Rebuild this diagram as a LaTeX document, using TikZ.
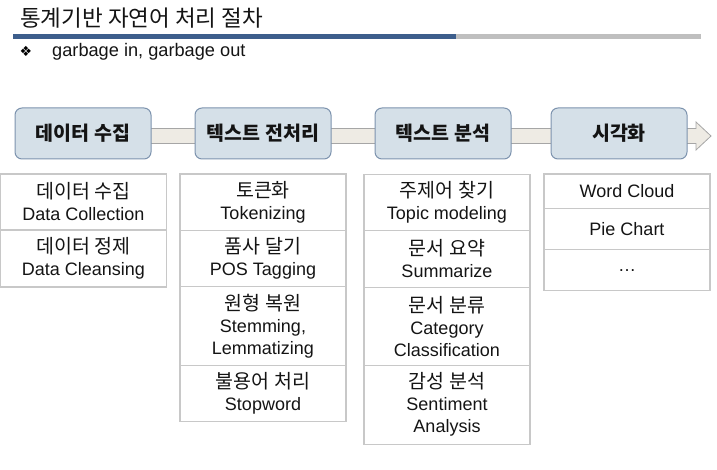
\documentclass[tikz,border=0pt]{standalone}
\usepackage{fontspec}
\usetikzlibrary{calc}
\setmainfont{Liberation Sans}
\newfontfamily\kr{Noto Sans CJK KR}
\newfontfamily\symfont{DejaVu Sans}
\newcommand\ko[1]{{\kr\fontsize{19.5}{22}\selectfont #1}}

\definecolor{rulblue}{HTML}{3D5E8C}
\definecolor{rulgray}{HTML}{BFBFBF}
\definecolor{stagefill}{HTML}{D5E0E8}
\definecolor{stageline}{HTML}{7D93AE}
\definecolor{bandfill}{HTML}{EEEBE4}
\definecolor{bandline}{HTML}{A6A6A6}
\definecolor{cellline}{HTML}{C8C8C8}
\definecolor{inktext}{HTML}{141414}

\begin{document}
\begin{tikzpicture}[x=1pt,y=-1pt,
  stagebox/.style={draw=stageline, fill=stagefill, rounded corners=7pt,
    line width=1pt, minimum width=136pt, minimum height=51pt, inner sep=0pt,
    text=inktext, font=\kr\bfseries\fontsize{19.5}{22}\selectfont},
  cell/.style={draw=cellline, line width=1.2pt, minimum width=166pt,
    inner sep=0pt, align=center, text=inktext,
    font=\fontsize{18}{22}\selectfont},
  band/.style={draw=bandline, fill=bandfill, line width=0.8pt}]
\useasboundingbox (0,0) rectangle (717,470);

% heading and rule
\node[anchor=west, inner sep=0pt, text=inktext,
  font=\kr\fontsize{22.5}{26}\selectfont] (title) at (20,18) {통계기반 자연어 처리 절차};
\fill[rulblue] (13,34) rectangle (456,39);
\fill[rulgray] (456,34) rectangle (701,39);
\node[inner sep=0pt, font=\symfont\fontsize{14}{14}\selectfont] (bullet) at (26,51) {❖};
\node[anchor=base west, inner sep=0pt, text=inktext,
  font=\fontsize{18.2}{20}\selectfont] (motto) at (52,57) {garbage in, garbage out};

% process band behind the stages
\coordinate (bandstart) at (83,136);
\coordinate (bandend) at (711,136);
\draw[band] ($(bandstart)+(0,-7.5)$) -- ($(bandend)+(-15,-7.5)$)
  -- ($(bandend)+(-15,-14)$) -- (bandend) -- ($(bandend)+(-15,14)$)
  -- ($(bandend)+(-15,7.5)$) -- ($(bandstart)+(0,7.5)$) -- cycle;

% stages
\node[stagebox] (s1) at (83,133.5) {데이터 수집};
\node[stagebox] (s2) at (263,133.5) {텍스트 전처리};
\node[stagebox] (s3) at (443,133.5) {텍스트 분석};
\node[stagebox] (s4) at (619,133.5) {시각화};

% column 1
\node[cell, minimum height=56pt] (c11) at (83.5,202) {\ko{데이터 수집}\\Data Collection};
\node[cell, minimum height=57pt] (c12) at (83.5,258.5) {\ko{데이터 정제}\\Data Cleansing};

% column 2
\node[cell, minimum height=56.7pt] (c21) at (263,202.3) {\ko{토큰화}\\Tokenizing};
\node[cell, minimum height=56pt] (c22) at (263,258.7) {\ko{품사 달기}\\POS Tagging};
\node[cell, minimum height=78.6pt] (c23) at (263,326) {\ko{원형 복원}\\Stemming,\\Lemmatizing};
\node[cell, minimum height=56.4pt] (c24) at (263,393.5) {\ko{불용어 처리}\\Stopword};

% column 3
\node[cell, minimum height=56.2pt] (c31) at (447,202.6) {\ko{주제어 찾기}\\Topic modeling};
\node[cell, minimum height=56.6pt] (c32) at (447,259) {\ko{문서 요약}\\Summarize};
\node[cell, minimum height=78pt] (c33) at (447,326.3) {\ko{문서 분류}\\Category\\Classification};
\node[cell, minimum height=79pt] (c34) at (447,404.8) {\ko{감성 분석}\\Sentiment\\Analysis};

% column 4
\node[cell, minimum height=34.3pt] (c41) at (627,191.2) {Word Cloud};
\node[cell, minimum height=41.4pt] (c42) at (627,229) {Pie Chart};
\node[cell, minimum height=41pt] (c43) at (627,270.2) {…};
\end{tikzpicture}
\end{document}
